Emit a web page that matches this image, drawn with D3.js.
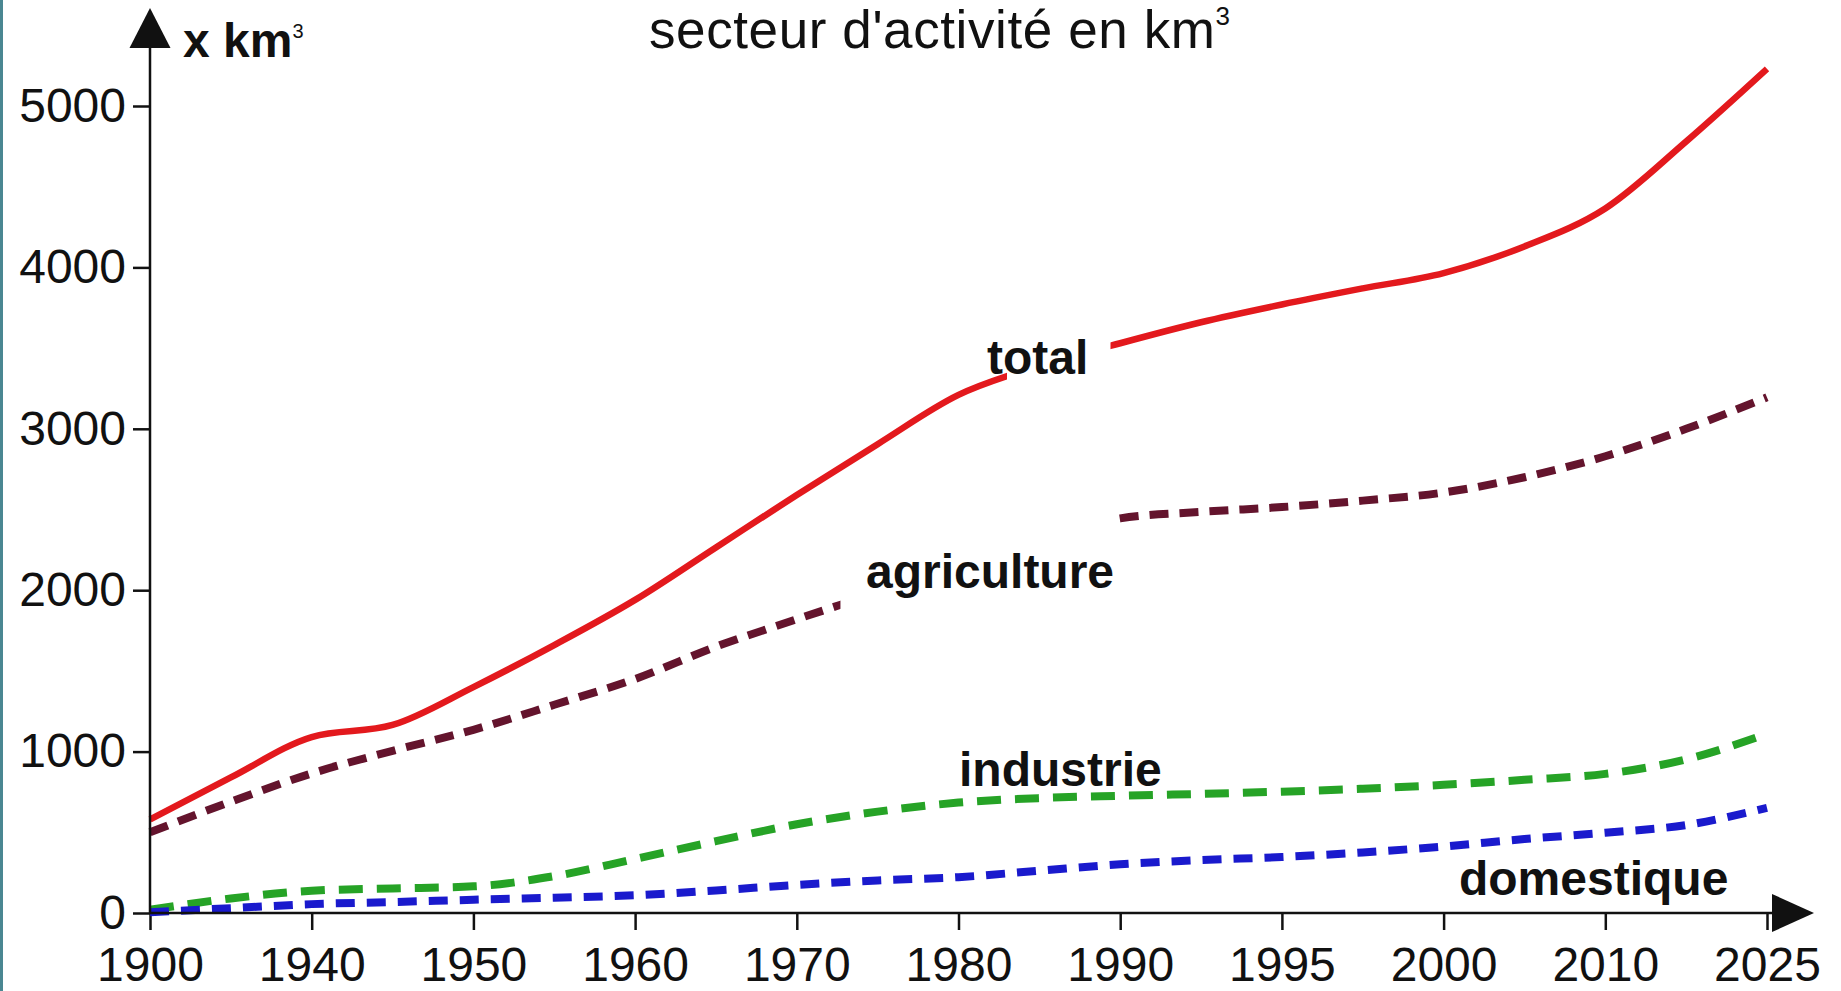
<!doctype html>
<html>
<head>
  <meta charset="utf-8">
  <title>Consommation d'eau par secteur d'activité</title>
  <script src="https://cdn.jsdelivr.net/npm/d3@7"></script>
  <style>
    body { margin: 0; background: #fff; }
    svg { display: block; }
    text { font-family: "Liberation Sans", Arial, sans-serif; fill: #111; }
  </style>
</head>
<body>
  <div id="chart"></div>

  <script type="text/javascript">
    // tick labels of the (non linear) year axis, one per step
    var years = ['1900', '1940', '1950', '1960', '1970', '1980', '1990', '1995', '2000', '2010', '2025'];

    // positions of the readings, in axis steps (half steps)
    var steps = [0, 0.5, 1, 1.5, 2, 2.5, 3, 3.5, 4, 4.5, 5, 5.5, 6, 6.5, 7, 7.5, 8, 8.5, 9, 9.5, 10];

    // km3 at each step
    var total = [580, 840, 1090, 1165, 1400, 1660, 1940, 2265, 2590, 2905, 3210, 3390, 3530, 3660, 3770, 3870, 3965, 4130, 4365, 4780, 5230];
    var agriculture = [500, 690, 865, 1005, 1135, 1290, 1450, 1650, 1820, 1985, 2150, 2310, 2445, 2485, 2515, 2555, 2605, 2700, 2830, 3000, 3195];
    var industrie = [20, 90, 138, 152, 165, 228, 335, 445, 550, 628, 684, 712, 726, 738, 752, 770, 794, 825, 862, 952, 1110];
    var domestique = [5, 30, 55, 68, 82, 95, 110, 140, 174, 202, 222, 262, 302, 328, 347, 375, 412, 458, 497, 545, 652];

    var yTicks = [0, 1000, 2000, 3000, 4000, 5000];

    var width = 1841;
    var height = 991;

    var x = d3.scaleLinear().domain([0, years.length - 1]).range([150, 1767]);
    var y = d3.scaleLinear().domain([0, 5000]).range([913, 106]);

    var svg = d3.select('div#chart')
      .append('svg')
      .attr('width', width)
      .attr('height', height);

    svg.append('rect').attr('width', width).attr('height', height).attr('fill', '#fff');
    svg.append('rect').attr('width', 3).attr('height', height).attr('fill', '#4a8792');

    // gaps left in the curves for the labels
    function clipOut(id, from, to) {
      var cp = svg.append('clipPath').attr('id', id);
      cp.append('rect').attr('x', 0).attr('y', 0).attr('width', x(from)).attr('height', height);
      cp.append('rect').attr('x', x(to)).attr('y', 0).attr('width', width - x(to)).attr('height', height);
    }
    clipOut('gap-total', 5.3, 5.94);
    clipOut('gap-agri', 4.27, 5.94);

    var series = [
      { name: 'total', values: total, color: '#e3191d', width: 6.5, dash: null, clip: 'gap-total' },
      { name: 'agriculture', values: agriculture, color: '#64142d', width: 8, dash: '19,11', clip: 'gap-agri' },
      { name: 'industrie', values: industrie, color: '#26a326', width: 8, dash: '24,14', clip: null },
      { name: 'domestique', values: domestique, color: '#1a1acd', width: 8, dash: '19,12', clip: null }
    ];

    var line = d3.line()
      .x(function(d) { return x(d[0]); })
      .y(function(d) { return y(d[1]); })
      .curve(d3.curveMonotoneX);

    // axes
    var xAxis = d3.axisBottom(x)
      .tickValues(d3.range(years.length))
      .tickFormat(function(i) { return years[i]; })
      .tickSize(17)
      .tickPadding(17);

    var yAxis = d3.axisLeft(y)
      .tickValues(yTicks)
      .tickFormat(d3.format('d'))
      .tickSize(17)
      .tickPadding(7);

    var gx = svg.append('g').attr('transform', 'translate(0,913)').call(xAxis);
    var gy = svg.append('g').attr('transform', 'translate(150,0)').call(yAxis);

    [gx, gy].forEach(function(g) {
      g.select('.domain').remove();
      g.selectAll('.tick line').attr('stroke', '#111').attr('stroke-width', 2.5);
      g.selectAll('.tick text')
        .attr('font-family', '"Liberation Sans", Arial, sans-serif')
        .attr('font-size', '48px')
        .attr('fill', '#111');
    });

    series.forEach(function(s) {
      var path = svg.append('path')
        .datum(steps.map(function(p, i) { return [p, s.values[i]]; }))
        .attr('d', line)
        .attr('fill', 'none')
        .attr('stroke', s.color)
        .attr('stroke-width', s.width);
      if (s.dash) path.attr('stroke-dasharray', s.dash);
      if (s.clip) path.attr('clip-path', 'url(#' + s.clip + ')');
    });

    // axis lines with arrow heads
    svg.append('line')
      .attr('x1', 150).attr('y1', 913).attr('x2', 150).attr('y2', 45)
      .attr('stroke', '#111').attr('stroke-width', 2.5);
    svg.append('line')
      .attr('x1', 150).attr('y1', 913).attr('x2', 1776).attr('y2', 913)
      .attr('stroke', '#111').attr('stroke-width', 2.5);
    svg.append('path')
      .attr('d', 'M150,8 L170.5,48 L129.5,48 Z')
      .attr('fill', '#111');
    svg.append('path')
      .attr('d', 'M1814,913 L1772,894 L1772,932 Z')
      .attr('fill', '#111');

    // unit
    var unit = svg.append('text')
      .attr('x', 183).attr('y', 57)
      .attr('font-size', '48px')
      .attr('font-weight', 'bold')
      .text('x km');
    unit.append('tspan').attr('font-size', '20px').attr('font-weight', 'normal').attr('dy', -19).text('3');

    // title
    var title = svg.append('text')
      .attr('x', 649).attr('y', 48)
      .attr('font-size', '53px')
      .attr('letter-spacing', '0.6px')
      .text("secteur d'activité en km");
    title.append('tspan').attr('font-size', '26px').attr('dy', -23).text('3');

    // curve labels, placed in axis units
    var labels = [
      { text: 'total', step: 5.176, value: 3337 },
      { text: 'agriculture', step: 4.428, value: 2016 },
      { text: 'industrie', step: 5.003, value: 788 },
      { text: 'domestique', step: 8.095, value: 112 }
    ];

    svg.selectAll('text.label')
      .data(labels)
      .enter()
      .append('text')
      .attr('class', 'label')
      .attr('x', function(d) { return x(d.step); })
      .attr('y', function(d) { return y(d.value); })
      .attr('font-size', '48px')
      .attr('font-weight', 'bold')
      .text(function(d) { return d.text; });
  </script>
</body>
</html>
